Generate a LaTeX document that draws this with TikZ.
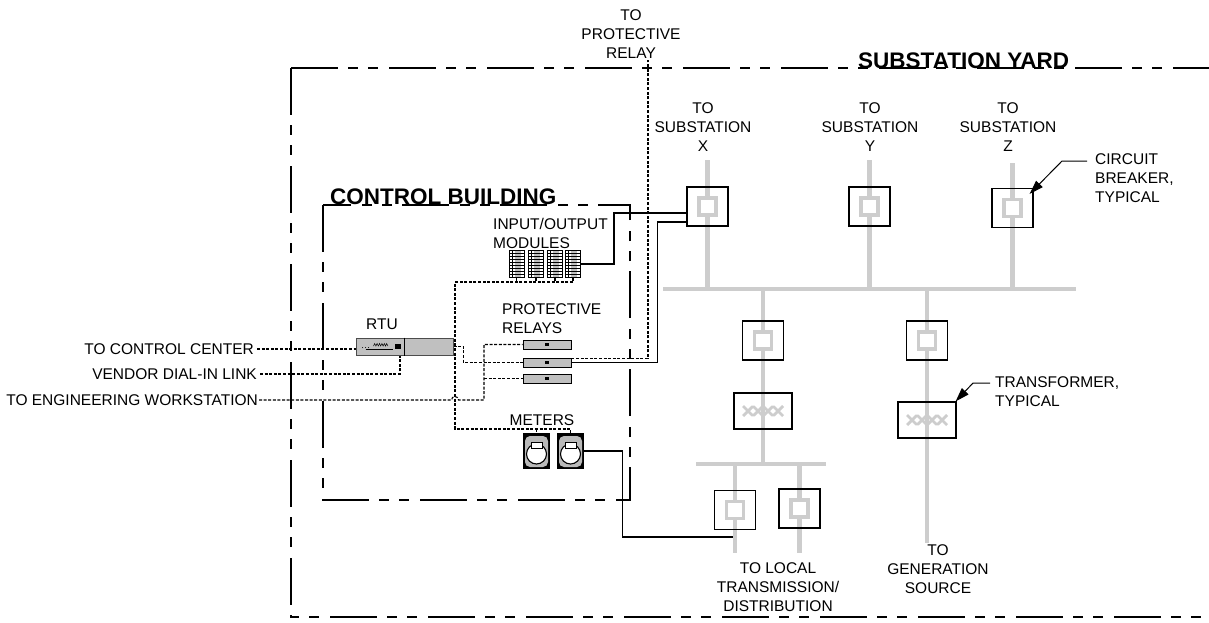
\documentclass[tikz,border=0pt]{standalone}
\usepackage{fontspec}
\setmainfont{Liberation Sans}
\usepackage{tikz}
\usetikzlibrary{arrows.meta, positioning, calc, backgrounds}
\definecolor{busgray}{RGB}{205, 205, 205}
\definecolor{unitgray}{RGB}{192, 192, 192}
\newcommand{\lblfont}{\fontsize{15.5}{19}\selectfont}
\newcommand{\ttlfont}{\fontsize{22.5}{26}\selectfont\bfseries}

\begin{document}
\begin{tikzpicture}[
    x=1pt, y=-1pt,
    lbl/.style={font=\lblfont, inner sep=0pt, align=center},
    ttl/.style={font=\ttlfont, inner sep=0pt, anchor=base west},
    fence/.style={line width=2.8pt, dash pattern=on 47pt off 10pt on 10pt off 10pt on 10pt off 11pt},
    bus/.style={busgray, line width=4.5pt},
    brk/.style={rectangle, draw, line width=1.2pt, minimum width=41pt, minimum height=39pt, inner sep=0pt},
    xfmr/.style={rectangle, draw, line width=1.2pt, minimum width=58pt, minimum height=36pt, inner sep=0pt},
    relay/.style={rectangle, draw, fill=unitgray, line width=0.9pt, minimum width=48pt, minimum height=9pt, inner sep=0pt},
    rtubox/.style={rectangle, draw=black!70, fill=unitgray, line width=1pt, minimum width=97pt, minimum height=17pt, inner sep=0pt},
    iomod/.style={rectangle, draw, fill=white, line width=0.9pt, minimum width=15pt, minimum height=27pt, inner sep=0pt,
        path picture={
            \fill[gray!50] ([xshift=-2pt]path picture bounding box.south) rectangle ([xshift=4pt]path picture bounding box.north);
            \foreach \k in {1,...,8}
                \draw[line width=0.6pt] ([yshift=\k*3pt]path picture bounding box.south west) -- ([yshift=\k*3pt]path picture bounding box.south east);
            \draw[line width=0.8pt] ([xshift=3pt]path picture bounding box.south west) -- ([xshift=3pt]path picture bounding box.north west);
        }},
    meter/.style={rectangle, fill=black, minimum width=27pt, minimum height=36pt, inner sep=0pt},
    wire/.style={line width=1.2pt},
    ctl/.style={line width=1.1pt, dash pattern=on 3pt off 1.6pt},
    leader/.style={line width=1pt, -{Triangle[length=14pt, width=9pt]}}
]
    \useasboundingbox (0,0) rectangle (1209,622);

    % Yard and control building
    \draw[fence] (291,68) -- (1209,68);
    \draw[fence] (291,68) -- (291,617) -- (1209,617);
    \draw[fence] (323,205) rectangle (630,500);
    \node[ttl] (yardT) at (858,68) {SUBSTATION YARD};
    \node[ttl] (cbT) at (330,204) {CONTROL BUILDING};

    % Breakers
    \node[brk] (bX) at (707.5,206.5) {};
    \node[brk] (bY) at (869.5,206.5) {};
    \node[brk] (bZ) at (1012.5,208) {};
    \node[brk] (bA) at (763,340.5) {};
    \node[brk] (bB) at (927,340.5) {};
    \node[brk] (bC) at (735,510) {};
    \node[brk] (bD) at (799.5,508.5) {};

    % Transformers
    \node[xfmr] (tA) at (763,411) {};
    \node[xfmr] (tB) at (927,420) {};

    % Bus ends
    \coordinate (busW) at (663,289);
    \coordinate (busE) at (1076,289);
    \coordinate (lbusW) at (696,464);
    \coordinate (lbusE) at (826,464);
    \coordinate (topXY) at (0,160);
    \coordinate (topZ) at (0,163);
    \coordinate (endCD) at (0,553);
    \coordinate (endG) at (0,543);

    \begin{scope}[on background layer]
        \draw[bus] (busW) -- (busE);
        \draw[bus] (lbusW) -- (lbusE);
        \draw[bus] (bX |- topXY) -- (bX |- busW);
        \draw[bus] (bY |- topXY) -- (bY |- busW);
        \draw[bus] (bZ |- topZ) -- (bZ |- busW);
        \draw[bus] (bA |- busW) -- (bA |- lbusW);
        \draw[bus] (bB |- busW) -- (bB |- endG);
        \draw[bus] (bC |- lbusW) -- (bC |- endCD);
        \draw[bus] (bD |- lbusW) -- (bD |- endCD);
    \end{scope}

    % Contacts and windings
    \foreach \b in {bX,bY,bZ,bA,bB,bC,bD}
        \draw[busgray, line width=3.5pt, fill=white] ([shift={(-8.5,-8.5)}]\b.center) rectangle ([shift={(8.5,8.5)}]\b.center);
    \foreach \t in {tA,tB} {
        \draw[busgray, line width=2.8pt, rounded corners=1.5pt, shift={(\t.center)}] (-20,-5) -- (-10,5) -- (0,-5) -- (10,5) -- (20,-5);
        \draw[busgray, line width=2.8pt, rounded corners=1.5pt, shift={(\t.center)}] (-20,5) -- (-10,-5) -- (0,5) -- (10,-5) -- (20,5);
    }

    % RTU
    \node[rtubox] (rtu) at (404.5,346.5) {};
    \draw[line width=1.4pt] (rtu.north) -- (rtu.south);
    \fill ([shift={(-10,-2.5)}]rtu.center) rectangle ([shift={(-4,2.5)}]rtu.center);
    \draw[line width=0.6pt] ([shift={(-39,3)}]rtu.center) -- ([shift={(-12,3)}]rtu.center);
    \draw[line width=0.5pt] ([shift={(-31,-0.5)}]rtu.center) \foreach \k in {1,...,6} { -- ++(1.2,-2.5) -- ++(1.2,2.5) };
    \foreach \k in {0,1,2}
        \fill ([shift={(-42+3*\k,1)}]rtu.center) circle (0.5pt);

    % Protective relays
    \node[relay] (r1) at (547,344.5) {};
    \node[relay] (r2) at (547,362.5) {};
    \node[relay] (r3) at (547,378.5) {};
    \foreach \r in {r1,r2,r3}
        \fill ([shift={(-2,-1.5)}]\r.center) rectangle ([shift={(2,1.5)}]\r.center);

    % I/O modules
    \foreach \i/\x in {1/516.5, 2/536, 3/555, 4/573}
        \node[iomod] (io\i) at (\x,264) {};

    % Meters
    \node[meter] (m1) at (536.5,451) {};
    \node[meter] (m2) at (570.5,451) {};
    \foreach \m in {m1,m2} {
        \fill[gray!55, rounded corners=5pt] ([shift={(-11.5,-15)}]\m.center) rectangle ([shift={(11.5,16)}]\m.center);
        \draw[fill=white, line width=1.1pt] ([yshift=-3pt]\m.center) circle (10pt);
        \draw[fill=white, line width=0.9pt] ([shift={(-5.5,-9)}]\m.center) rectangle ([shift={(5.5,-3)}]\m.center);
    }

    % Labels
    \node[lbl] (prL) at (631,34) {TO\\PROTECTIVE\\RELAY};
    \node[lbl] (sxL) at (703,127) {TO\\SUBSTATION\\X};
    \node[lbl] (syL) at (870,127) {TO\\SUBSTATION\\Y};
    \node[lbl] (szL) at (1008,127) {TO\\SUBSTATION\\Z};
    \node[lbl, align=left, anchor=west] (cbL) at (1095,178) {CIRCUIT\\BREAKER,\\TYPICAL};
    \node[lbl, align=left, anchor=west] (tfL) at (995,392) {TRANSFORMER,\\TYPICAL};
    \node[lbl, align=left, anchor=west] (ioL) at (493,233.5) {INPUT/OUTPUT\\MODULES};
    \node[lbl, align=left, anchor=west] (prlL) at (502,318.5) {PROTECTIVE\\RELAYS};
    \node[lbl] (rtuL) at (382,324) {RTU};
    \node[lbl] (mtL) at (542,420) {METERS};
    \node[lbl] (locL) at (778,587) {TO LOCAL\\TRANSMISSION/\\DISTRIBUTION};
    \node[lbl] (genL) at (938,569) {TO\\GENERATION\\SOURCE};
    \node[lbl, anchor=east, inner sep=3pt] (ccL) at (257,349) {TO CONTROL CENTER};
    \node[lbl, anchor=east, inner sep=3pt] (vdL) at (260,374) {VENDOR DIAL-IN LINK};
    \node[lbl, anchor=east, inner sep=1pt] (ewL) at (259,400) {TO ENGINEERING WORKSTATION};

    % Leaders
    \coordinate (cbA) at (1087,161);
    \coordinate (cbK) at (1062,161);
    \draw[leader] (cbA) -- (cbK) -- ([shift={(-4,6)}]bZ.north east);
    \coordinate (tfA) at (990,383);
    \coordinate (tfK) at (973,383);
    \draw[leader] (tfA) -- (tfK) -- ([shift={(-1,0)}]tB.north east);

    % Control wiring
    \coordinate (prTop) at (648,60);
    \coordinate (ioW) at (455,282);
    \coordinate (mtW) at (455,429);
    \coordinate (rj) at (484,400);
    \coordinate (cTap) at (733,537);
    \coordinate (hop) at (ewL.east -| ioW);

    \draw[ctl] (ccL.east) -- (ccL.east -| rtu.west);
    \draw[ctl] (vdL.east) -| ([xshift=-4.5pt]rtu.south);
    \draw[ctl] (ewL.east) -- ([xshift=-3.5pt]hop) arc[start angle=180, end angle=360, radius=3.5] -- (rj) |- (r1.west);
    \draw[ctl] (rj |- r3.west) -- (r3.west);
    \draw[ctl] (rtu.east) -- ++(10,0) |- (r2.west);
    \draw[ctl] ([yshift=4pt]r2.east) -| (prTop);
    \foreach \i in {1,...,4}
        \draw[ctl] (io\i.south) -- (io\i.south |- ioW);
    \draw[ctl] (io4.south |- ioW) -- (ioW) -- (mtW) -| (m2.north);
    \draw[ctl] (m1.north |- mtW) -- (m1.north);

    \draw[wire] (io4.east) -- ++(33,0) |- ([yshift=-6.5pt]bX.west);
    \draw[wire] (r2.east) -- ++(86,0) |- ([yshift=-15.5pt]bX.west);
    \draw[wire] (m2.east) -- ++(38,0) |- (cTap);
\end{tikzpicture}
\end{document}
